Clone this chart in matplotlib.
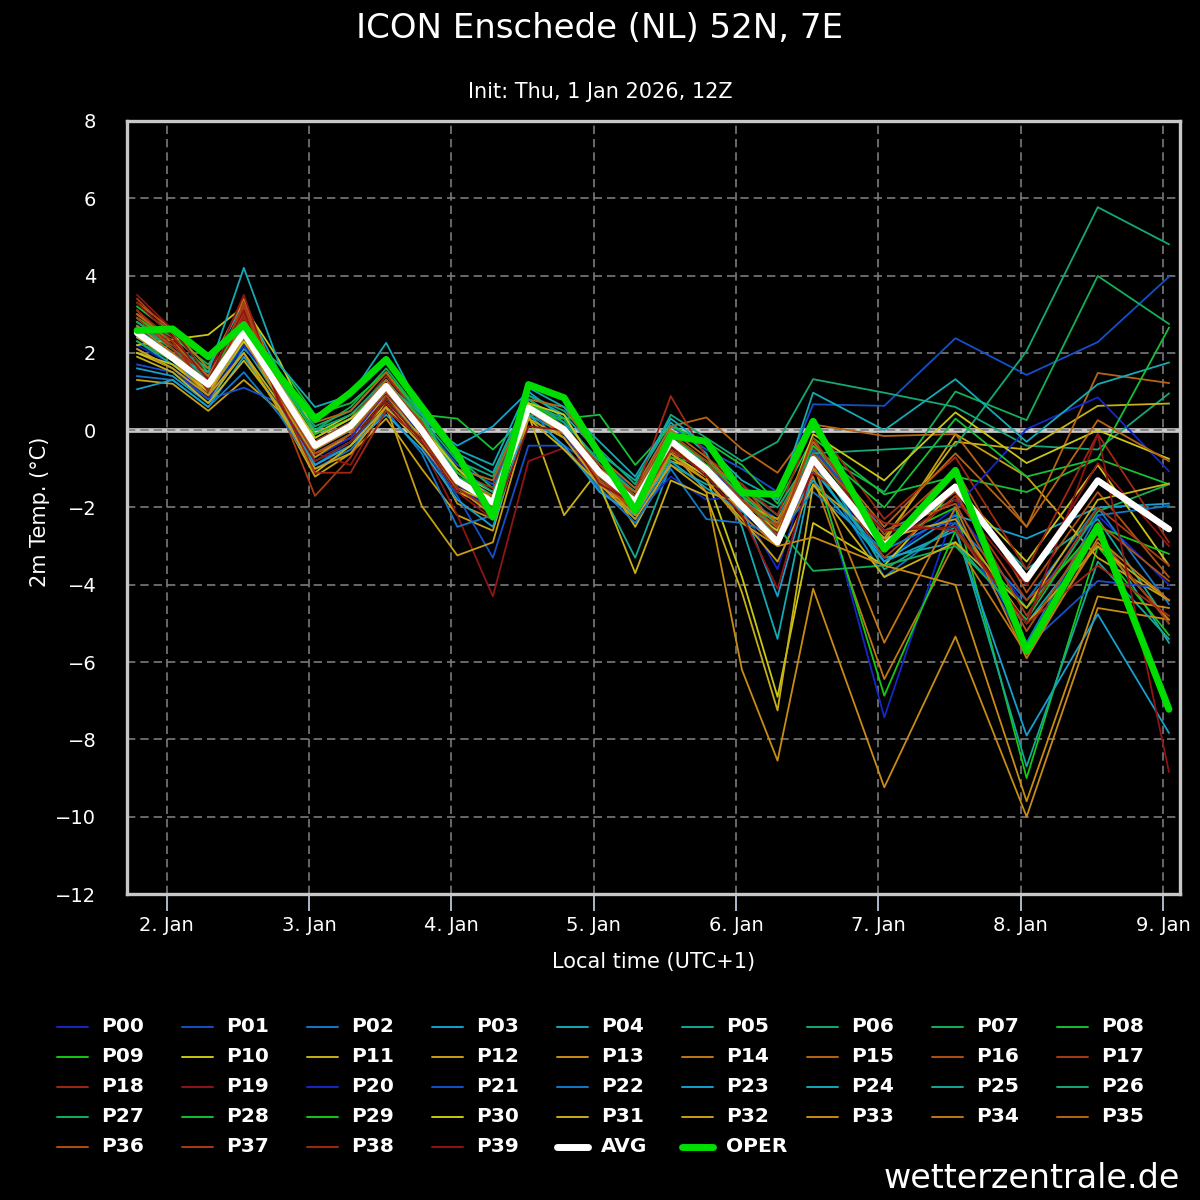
import matplotlib
matplotlib.use("Agg")
import matplotlib.pyplot as plt
import matplotlib.dates as mdates
from matplotlib.lines import Line2D
from datetime import datetime, timedelta

# ---------------- data ----------------
title = "ICON Enschede (NL) 52N, 7E"
subtitle = "Init: Thu, 1 Jan 2026, 12Z"
init_local = datetime(2026, 1, 1, 13)  # 12Z = 13 local (UTC+1)
lead_hours = [6, 12, 18, 24, 30, 36, 42, 48, 54, 60, 66, 72, 78, 84, 90, 96,
              102, 108, 114, 120, 132, 144, 156, 168, 180]
tick_days = [2, 3, 4, 5, 6, 7, 8, 9]
tick_labels = ["2. Jan", "3. Jan", "4. Jan", "5. Jan", "6. Jan", "7. Jan", "8. Jan", "9. Jan"]
y_ticks = [-12, -10, -8, -6, -4, -2, 0, 2, 4, 6, 8]

p00 = [2.2, 1.7, 0.9, 2.3, 0.9, -0.6, -0.1, 0.9, -0.1, -1.4, -2.2, 0.5, 0.1, -1.3, -2.3, -0.6, -1.2, -2.0, -3.6, -0.7, -3.4, -2.0, -4.6, -2.2, -4.0]
p01 = [2.6, 2.0, 1.3, 2.8, 1.2, -0.2, 0.3, 1.3, 0.2, -0.9, -1.4, 0.8, 0.2, -0.8, -1.5, 0.1, -0.5, -1.0, -1.6, 0.67, 0.63, 2.38, 1.43, 2.28, 3.97]
p02 = [2.4, 1.8, 1.0, 2.4, 1.0, -0.5, 0.0, 1.0, 0.1, -1.1, -1.7, 0.7, 0.2, -1.2, -2.0, -0.4, -0.9, -1.8, -2.6, -0.8, -3.8, -2.4, -4.4, -2.0, -4.5]
p03 = [1.6, 1.4, 0.7, 2.1, 1.3, -0.3, 0.2, 1.2, 0.3, -0.4, 0.1, 1.0, 0.3, -0.9, -1.6, -0.2, -1.0, -2.0, -4.3, -1.0, -3.4, -2.2, -2.8, -2.0, -1.9]
p04 = [2.9, 2.2, 1.6, 3.3, 1.5, 0.3, 0.9, 2.26, 0.5, -0.6, -1.1, 0.9, 0.4, -0.6, -1.3, 0.2, -0.6, -2.5, -5.4, -1.0, -3.3, -2.9, -5.0, -2.6, -5.5]
p05 = [2.3, 1.7, 1.0, 2.2, 0.8, -0.8, -0.3, 0.8, -0.2, -1.5, -2.1, 0.4, -0.1, -1.5, -3.3, -0.9, -1.4, -1.6, -2.6, -0.4, -2.6, -1.8, -3.6, -2.3, -5.0]
p06 = [2.7, 2.1, 1.4, 2.7, 1.3, 0.1, 0.5, 1.5, 0.3, -0.8, -1.2, 0.9, 0.5, -0.5, -1.4, 0.4, -0.2, -0.8, -0.3, 1.32, 0.97, 0.6, -0.4, -0.5, 0.95]
p07 = [3.0, 2.4, 1.7, 3.0, 1.4, 0.0, 0.6, 1.6, 0.4, -0.7, -1.5, 0.7, 0.3, -0.9, -1.7, -0.1, -0.8, -1.5, -2.2, -0.5, -1.6, 1.0, 0.26, 3.99, 2.75]
p08 = [3.2, 2.5, 1.5, 2.5, 1.7, 0.4, 0.7, 1.5, 0.4, 0.3, -0.5, 0.4, 0.3, 0.4, -0.9, 0.1, -0.3, -0.9, -1.9, -0.2, -1.66, -1.2, -1.6, -0.74, -1.4]
p09 = [2.8, 2.2, 1.5, 2.6, 1.1, -0.3, 0.2, 1.1, 0.3, -1.2, -1.7, 0.8, 0.1, -1.0, -1.8, -0.3, -0.8, -1.7, -2.8, -0.5, -2.9, -2.0, -9.0, -3.0, -5.3]
p10 = [2.2, 2.35, 2.47, 3.2, 1.8, -0.1, 0.4, 1.0, 0.2, -1.1, -1.6, 0.6, 0.0, -1.0, -2.1, -0.6, -1.2, -3.8, -6.9, -2.4, -3.5, -1.5, -3.4, -0.9, -3.5]
p11 = [2.0, 1.6, 0.8, 2.0, 0.7, -0.9, -0.4, 0.7, -0.3, -1.6, -2.0, 0.4, -2.2, -1.0, -2.5, -0.8, -1.1, -2.1, -2.5, -0.9, -2.8, -0.3, -0.5, 0.63, 0.69]
p12 = [1.3, 1.2, 0.5, 1.3, 0.5, -1.2, -0.6, 0.3, -1.0, -2.2, -2.6, 0.5, 0.0, -1.4, -2.2, -0.7, -1.3, -2.3, -3.4, -1.4, -2.9, -0.1, -1.2, -3.3, -4.4]
p13 = [2.5, 1.9, 1.0, 2.3, 0.8, -0.6, -0.2, 0.9, -0.2, -1.9, -2.3, 0.6, -0.2, -1.3, -2.0, -0.5, -1.6, -6.2, -8.55, -4.1, -9.24, -5.34, -10.0, -4.6, -4.9]
p14 = [3.3, 2.6, 1.6, 3.4, 1.2, -0.5, 0.1, 1.3, 0.1, -1.3, -1.8, 0.5, 0.0, -1.2, -2.1, -0.3, -1.0, -2.2, -3.0, -1.2, -6.44, -2.9, -5.8, -2.9, -4.9]
p15 = [2.9, 2.3, 1.3, 3.1, 1.4, 0.2, 0.5, 1.5, 0.2, -1.0, -1.3, 0.8, 0.6, -0.7, -1.5, 0.1, 0.33, -0.49, -1.1, 0.15, -0.15, -0.1, -2.5, 1.48, 1.22]
p16 = [3.1, 2.1, 1.2, 3.2, 1.0, -0.4, 0.2, 1.3, 0.1, -1.2, -2.0, 0.6, 0.0, -1.2, -1.9, -0.1, -0.9, -1.4, -2.5, -0.3, -2.7, -1.0, -4.2, -1.6, -3.8]
p17 = [3.4, 2.5, 1.1, 3.2, 0.6, -1.7, -0.7, 0.9, 0.0, -1.2, -1.9, 0.7, -0.1, -1.6, -2.0, -0.6, -0.9, -1.9, -2.5, -0.6, -3.3, -1.7, -4.4, -2.7, -5.0]
p18 = [3.0, 2.2, 1.3, 2.9, 1.1, -0.2, 0.3, 1.4, 0.3, -1.1, -1.5, 0.7, 0.1, -1.0, -1.6, 0.88, -0.7, -1.4, -2.2, 0.2, -2.3, -0.7, -3.6, -0.1, -2.9]
p19 = [3.5, 2.6, 1.4, 3.5, 0.9, -0.6, -0.9, 0.7, -0.4, -2.2, -4.3, -0.8, -0.46, -1.3, -2.0, -0.2, -1.1, -1.6, -2.6, -0.4, -3.0, -1.8, -4.0, -0.85, -3.0]
p20 = [2.1, 1.6, 0.8, 2.2, 1.0, -0.7, -0.2, 1.0, 0.0, -1.5, -2.0, 0.5, -0.1, -1.6, -2.2, -1.2, -1.8, -1.7, -2.4, -0.6, -7.43, -2.0, 0.03, 0.85, -1.06]
p21 = [1.7, 1.5, 0.8, 1.1, 0.7, -0.9, -0.3, 0.6, -0.4, -1.7, -3.3, -0.4, -0.4, -1.0, -1.8, -0.4, -1.0, -1.7, -2.3, -0.5, -2.6, -2.4, -5.6, -3.9, -4.1]
p22 = [1.4, 1.3, 0.6, 1.5, 0.4, -1.0, -0.5, 0.5, -0.6, -2.5, -2.2, 0.6, -0.5, -1.5, -2.4, -1.0, -2.3, -2.4, -2.7, -1.6, -3.1, -2.2, -5.5, -2.2, -1.96]
p23 = [1.06, 1.3, 0.6, 1.9, 0.6, -0.9, -0.4, 0.4, -0.5, -1.8, -2.5, 0.4, -0.4, -1.6, -2.2, -0.8, -1.5, -2.1, -2.6, -1.3, -3.4, -2.6, -7.9, -4.76, -7.83]
p24 = [2.4, 1.9, 1.5, 4.2, 1.7, 0.6, 0.9, 1.9, 0.4, -0.5, -0.9, 1.1, 0.6, -0.3, -1.2, 0.3, -0.4, -1.3, -1.8, 0.97, 0.0, 1.32, -0.3, 1.19, 1.75]
p25 = [2.6, 2.0, 1.2, 2.6, 1.1, -0.3, 0.2, 1.2, 0.4, -1.2, -1.9, 0.6, 0.1, -1.0, -2.0, -0.3, -1.0, -1.8, -2.4, -0.6, -3.6, -2.5, -8.7, -3.4, -5.4]
p26 = [2.8, 2.1, 1.3, 2.7, 1.3, 0.0, 0.4, 1.3, 0.2, -1.0, -1.6, 0.8, 0.2, -0.8, -1.6, -0.2, -0.9, -1.5, -2.0, -0.6, -0.5, -0.4, 2.05, 5.77, 4.81]
p27 = [2.3, 1.8, 1.1, 2.4, 1.0, -0.5, 0.0, 1.0, 0.0, -1.4, -1.9, 0.6, 0.0, -1.2, -1.9, -0.5, -1.1, -1.9, -2.5, -3.64, -3.5, -3.0, -4.9, -2.1, -1.4]
p28 = [2.9, 2.3, 1.4, 2.8, 1.3, -0.1, 0.3, 1.2, 0.3, -1.1, -1.8, 0.6, 0.0, -1.0, -1.7, -0.2, -0.8, -1.7, -2.4, -0.4, -2.0, 0.3, -1.2, -0.74, 2.65]
p29 = [2.5, 1.9, 1.1, 2.5, 1.0, -0.4, 0.1, 1.0, 0.1, -1.4, -1.8, 0.7, 0.1, -1.1, -2.0, -0.7, -0.9, -2.0, -2.3, -0.8, -6.87, -2.6, -4.6, -2.5, -3.2]
p30 = [2.0, 1.7, 1.0, 2.3, 1.2, -0.2, 0.3, 1.0, 0.1, -1.0, -1.8, 0.7, 0.4, -1.1, -1.8, -0.4, -1.1, -2.0, -2.6, -0.1, -1.3, 0.46, -0.85, 0.0, -0.74]
p31 = [1.9, 1.5, 0.7, 1.8, 0.6, -1.1, -0.4, 0.6, -0.4, -1.5, -1.9, 0.3, -0.5, -1.4, -3.7, -1.3, -1.7, -4.2, -7.25, -1.4, -3.8, -2.9, -4.6, -1.8, -1.38]
p32 = [2.1, 1.6, 0.9, 2.0, 0.5, -1.0, -0.6, 0.6, -1.96, -3.24, -2.9, 0.3, -0.2, -1.4, -2.3, -0.9, -1.6, -1.9, -2.3, -1.0, -2.8, -2.3, -5.0, -3.0, -4.4]
p33 = [2.4, 1.8, 0.9, 2.4, 0.8, -0.7, -0.1, 1.1, -0.1, -1.5, -2.2, 0.6, 0.1, -1.3, -2.2, -0.6, -1.3, -2.4, -3.0, -2.77, -3.5, -4.0, -9.6, -4.3, -4.6]
p34 = [2.7, 2.0, 1.2, 2.8, 0.9, -0.5, 0.0, 1.2, 0.2, -1.3, -1.7, 0.5, -0.1, -1.1, -1.8, -0.3, -1.0, -2.0, -2.8, -0.9, -5.5, -2.0, -5.9, -2.8, -4.4]
p35 = [3.0, 2.3, 1.4, 3.0, 1.2, -0.3, 0.2, 1.3, 0.1, -1.3, -1.7, 0.6, 0.1, -1.0, -1.6, 0.0, -0.7, -1.6, -2.4, -0.3, -2.5, -0.6, -2.5, 0.26, -0.8]
p36 = [2.6, 1.9, 1.1, 2.6, 0.9, -0.6, -0.1, 1.0, 0.0, -1.3, -2.0, 0.5, 0.0, -1.3, -2.1, -0.5, -1.1, -1.8, -2.5, -0.6, -2.6, -1.9, -5.2, -2.4, -3.9]
p37 = [2.9, 2.1, 1.2, 3.3, 1.0, -0.3, 0.2, 1.2, 0.2, -1.4, -1.9, 0.5, 0.1, -0.9, -1.7, -0.1, -0.8, -1.8, -2.7, -0.2, -2.9, -1.6, -4.8, -2.0, -3.5]
p38 = [3.1, 2.3, 1.0, 3.0, 0.8, -1.1, -1.1, 0.5, -0.2, -1.5, -2.1, 0.6, 0.1, -1.2, -2.0, -0.5, -1.1, -2.0, -2.8, -1.1, -2.4, -2.6, -5.0, -3.5, -4.8]
p39 = [3.3, 2.4, 1.3, 3.1, 0.7, -0.8, -0.3, 0.8, -0.3, -1.6, -2.3, 0.1, 0.0, -1.4, -1.9, -0.4, -1.2, -2.2, -4.1, -0.9, -2.6, -2.5, -5.0, -0.1, -8.84]

avg = [2.52, 1.87, 1.18, 2.53, 1.06, -0.40, 0.11, 1.14, 0.00, -1.31, -1.87, 0.58, 0.02, -1.10, -1.85, -0.28, -1.01, -1.96, -2.90, -0.75, -2.99, -1.46, -3.85, -1.30, -2.56]
oper = [2.58, 2.62, 1.90, 2.73, 1.40, 0.28, 0.97, 1.83, 0.60, -0.63, -2.25, 1.18, 0.84, -0.63, -2.08, -0.14, -0.29, -1.62, -1.66, 0.23, -3.08, -1.04, -5.71, -2.49, -7.22]

members = [p00, p01, p02, p03, p04, p05, p06, p07, p08, p09,
           p10, p11, p12, p13, p14, p15, p16, p17, p18, p19,
           p20, p21, p22, p23, p24, p25, p26, p27, p28, p29,
           p30, p31, p32, p33, p34, p35, p36, p37, p38, p39]
member_names = ["P%02d" % k for k in range(40)]

palette = ["#1428c8", "#1450c8", "#1478c8", "#14a0d0", "#14aab4",
           "#14a896", "#14a878", "#14b058", "#14c034", "#14c814",
           "#c8c814", "#c8b014", "#c8a014", "#c88c14", "#c07814",
           "#b86414", "#b05014", "#a83c14", "#a02814", "#901414"]
avg_color = "#ffffff"
oper_color = "#00dd00"

# ---------------- figure ----------------
W = H = 1200
fig = plt.figure(figsize=(12, 12), dpi=100, facecolor="black")
ax = fig.add_axes([127 / W, 1 - 894 / H, (1180 - 127) / W, (894 - 121) / H])
ax.set_facecolor("black")

times = [init_local + timedelta(hours=h) for h in lead_hours]

for k, vals in enumerate(members):
    ax.plot(times, vals, color=palette[k % 20], lw=1.3, zorder=2,
            solid_joinstyle="round")
ax.plot(times, avg, color=avg_color, lw=4.6, zorder=3,
        solid_joinstyle="round", solid_capstyle="round")
ax.plot(times, oper, color=oper_color, lw=5.0, zorder=4,
        solid_joinstyle="round", solid_capstyle="round")

ax.axhline(0, color="#c8c8c8", lw=3.4, zorder=0.3)
ax.set_axisbelow(True)
ax.grid(True, color="#7a7a7a", lw=1.2, linestyle=(0, (5, 3)))

ax.set_ylim(-12, 8)
ax.set_yticks(y_ticks)
ax.set_xlim(datetime(2026, 1, 1, 17, 18), datetime(2026, 1, 9, 2, 52))
ax.set_xticks([mdates.date2num(datetime(2026, 1, d)) for d in tick_days])
ax.set_xticklabels(tick_labels)

ax.tick_params(axis="x", direction="out", length=12, width=1.2,
               color="#ccd6eb", labelcolor="white", labelsize=14, pad=4)
ax.tick_params(axis="y", length=0, labelcolor="white", labelsize=14, pad=22)
for s in ax.spines.values():
    s.set_color("#c8c8c8")
    s.set_linewidth(2.4)

fig.text(0.5, 1 - 28 / H, title, ha="center", va="center", fontsize=24.5, color="white")
fig.text(0.5, 1 - 92 / H, subtitle, ha="center", va="center", fontsize=15, color="white")
fig.text(653.5 / W, 1 - 962 / H, "Local time (UTC+1)", ha="center", va="center",
         fontsize=15, color="white")
fig.text(40 / W, 1 - 512 / H, "2m Temp. (°C)", ha="center", va="center",
         rotation=90, fontsize=15, color="white")
fig.text(1180 / W, 1 - 1178 / H, "wetterzentrale.de", ha="right", va="center",
         fontsize=24, color="white")

# legend (manual grid of 9 columns)
entries = [(n, palette[k % 20], 1.4) for k, n in enumerate(member_names)]
entries.append(("AVG", avg_color, 5.0))
entries.append(("OPER", oper_color, 5.0))
for idx, (name, col, lw) in enumerate(entries):
    r, c = divmod(idx, 9)
    x0 = 57 + c * 125
    y = 1027 + r * 30
    fig.add_artist(Line2D([x0 / W, (x0 + 31) / W], [1 - y / H, 1 - y / H],
                          color=col, lw=lw, solid_capstyle="round"))
    fig.text((x0 + 44) / W, 1 - (y - 1) / H, name, ha="left", va="center",
             fontsize=14.5, fontweight="bold", color="white")

fig.savefig("out.png", dpi=100, facecolor="black")
